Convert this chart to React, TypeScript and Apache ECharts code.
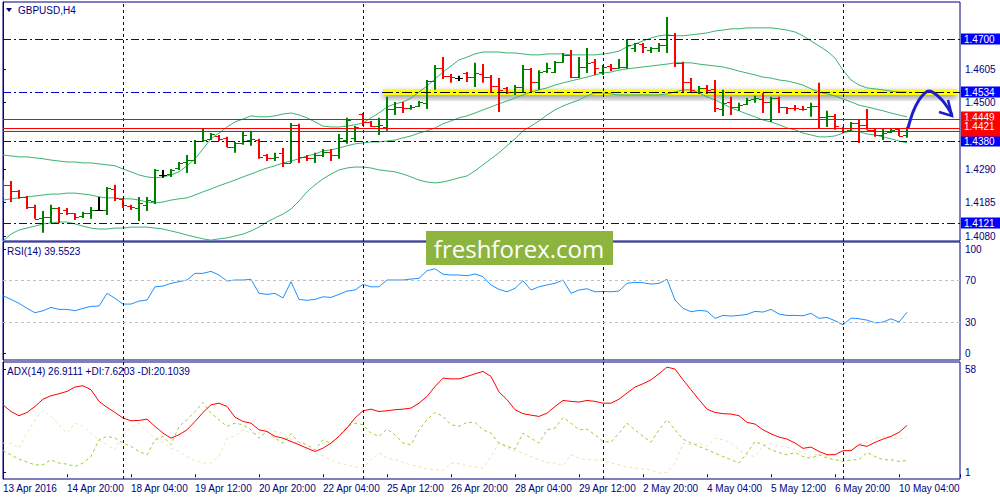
import React, { useEffect, useRef } from 'react';
import * as echarts from 'echarts';

// x tick labels, one every 8 bars (H4)
const tickLabels = [
  '13 Apr 2016', '14 Apr 20:00', '18 Apr 04:00', '19 Apr 12:00', '20 Apr 20:00',
  '22 Apr 04:00', '25 Apr 12:00', '26 Apr 20:00', '28 Apr 04:00', '29 Apr 12:00',
  '2 May 20:00', '4 May 04:00', '5 May 12:00', '6 May 20:00', '10 May 04:00',
];
// bar index of each Monday 00:00 (period separators)
const weekStarts = [15, 45, 75, 105];

const opens = [
  1.4206, 1.4241, 1.4222, 1.4203, 1.4171, 1.4137, 1.4140, 1.4168, 1.4162, 1.4152,
  1.4143, 1.4152, 1.4162, 1.4162, 1.4228, 1.4197, 1.4175, 1.4168, 1.4178, 1.4190,
  1.4272, 1.4275, 1.4294, 1.4313, 1.4319, 1.4379, 1.4386, 1.4395, 1.4389, 1.4360,
  1.4373, 1.4382, 1.4382, 1.4335, 1.4326, 1.4342, 1.4310, 1.4430, 1.4329, 1.4326,
  1.4335, 1.4345, 1.4335, 1.4382, 1.4389, 1.4464, 1.4439, 1.4426, 1.4423, 1.4480,
  1.4486, 1.4483, 1.4489, 1.4499, 1.4568, 1.4609, 1.4584, 1.4577, 1.4593, 1.4580,
  1.4590, 1.4580, 1.4552, 1.4546, 1.4533, 1.4549, 1.4606, 1.4565, 1.4599, 1.4596,
  1.4628, 1.4650, 1.4580, 1.4612, 1.4628, 1.4596, 1.4615, 1.4609, 1.4612, 1.4672,
  1.4684, 1.4665, 1.4672, 1.4681, 1.4713, 1.4625, 1.4565, 1.4533, 1.4546, 1.4543,
  1.4480, 1.4502, 1.4486, 1.4496, 1.4511, 1.4511, 1.4502, 1.4514, 1.4486, 1.4483,
  1.4480, 1.4486, 1.4489, 1.4455, 1.4458, 1.4420, 1.4414, 1.4436, 1.4430, 1.4414,
  1.4398, 1.4408, 1.4417, 1.4398,
];
const highs = [
  1.4256, 1.4253, 1.4225, 1.4206, 1.4178, 1.4159, 1.4178, 1.4171, 1.4168, 1.4152,
  1.4156, 1.4171, 1.4203, 1.4234, 1.4241, 1.4200, 1.4178, 1.4203, 1.4203, 1.4291,
  1.4288, 1.4291, 1.4313, 1.4335, 1.4382, 1.4417, 1.4404, 1.4398, 1.4392, 1.4376,
  1.4408, 1.4411, 1.4386, 1.4338, 1.4342, 1.4357, 1.4436, 1.4433, 1.4335, 1.4342,
  1.4354, 1.4354, 1.4401, 1.4452, 1.4426, 1.4467, 1.4442, 1.4452, 1.4518, 1.4502,
  1.4502, 1.4492, 1.4505, 1.4571, 1.4618, 1.4643, 1.4590, 1.4584, 1.4596, 1.4625,
  1.4621, 1.4587, 1.4577, 1.4549, 1.4555, 1.4618, 1.4609, 1.4602, 1.4625, 1.4631,
  1.4656, 1.4665, 1.4643, 1.4672, 1.4637, 1.4618, 1.4621, 1.4637, 1.4700, 1.4687,
  1.4687, 1.4675, 1.4687, 1.4769, 1.4719, 1.4628, 1.4577, 1.4552, 1.4555, 1.4571,
  1.4540, 1.4518, 1.4499, 1.4514, 1.4521, 1.4530, 1.4518, 1.4518, 1.4486, 1.4492,
  1.4489, 1.4499, 1.4562, 1.4474, 1.4464, 1.4423, 1.4439, 1.4445, 1.4480, 1.4420,
  1.4417, 1.4420, 1.4420, 1.4423,
];
const lows = [
  1.4200, 1.4187, 1.4197, 1.4165, 1.4134, 1.4090, 1.4121, 1.4121, 1.4146, 1.4130,
  1.4137, 1.4134, 1.4159, 1.4146, 1.4190, 1.4168, 1.4162, 1.4127, 1.4159, 1.4181,
  1.4263, 1.4266, 1.4288, 1.4278, 1.4307, 1.4376, 1.4382, 1.4379, 1.4360, 1.4342,
  1.4367, 1.4364, 1.4323, 1.4316, 1.4316, 1.4297, 1.4310, 1.4310, 1.4316, 1.4310,
  1.4329, 1.4316, 1.4323, 1.4370, 1.4376, 1.4426, 1.4423, 1.4398, 1.4411, 1.4461,
  1.4467, 1.4477, 1.4486, 1.4480, 1.4540, 1.4574, 1.4562, 1.4568, 1.4565, 1.4549,
  1.4562, 1.4530, 1.4470, 1.4527, 1.4524, 1.4533, 1.4533, 1.4540, 1.4593, 1.4593,
  1.4625, 1.4577, 1.4577, 1.4593, 1.4587, 1.4587, 1.4599, 1.4606, 1.4606, 1.4659,
  1.4656, 1.4656, 1.4659, 1.4656, 1.4612, 1.4530, 1.4530, 1.4527, 1.4527, 1.4470,
  1.4458, 1.4461, 1.4474, 1.4492, 1.4499, 1.4467, 1.4439, 1.4467, 1.4464, 1.4474,
  1.4474, 1.4455, 1.4420, 1.4423, 1.4414, 1.4404, 1.4411, 1.4373, 1.4414, 1.4392,
  1.4382, 1.4404, 1.4395, 1.4389,
];
const closes = [
  1.4241, 1.4222, 1.4203, 1.4171, 1.4134, 1.4140, 1.4168, 1.4152, 1.4152, 1.4140,
  1.4152, 1.4162, 1.4162, 1.4231, 1.4200, 1.4178, 1.4171, 1.4184, 1.4193, 1.4288,
  1.4272, 1.4288, 1.4310, 1.4319, 1.4379, 1.4382, 1.4401, 1.4386, 1.4360, 1.4373,
  1.4398, 1.4386, 1.4329, 1.4326, 1.4329, 1.4310, 1.4430, 1.4329, 1.4326, 1.4335,
  1.4345, 1.4335, 1.4389, 1.4445, 1.4423, 1.4439, 1.4426, 1.4428, 1.4480, 1.4486,
  1.4483, 1.4486, 1.4502, 1.4568, 1.4609, 1.4584, 1.4580, 1.4577, 1.4580, 1.4593,
  1.4580, 1.4552, 1.4540, 1.4533, 1.4549, 1.4606, 1.4565, 1.4596, 1.4609, 1.4628,
  1.4650, 1.4580, 1.4612, 1.4625, 1.4609, 1.4612, 1.4609, 1.4612, 1.4681, 1.4687,
  1.4675, 1.4672, 1.4681, 1.4713, 1.4625, 1.4565, 1.4540, 1.4546, 1.4540, 1.4483,
  1.4499, 1.4486, 1.4492, 1.4508, 1.4514, 1.4502, 1.4514, 1.4486, 1.4483, 1.4482,
  1.4479, 1.4489, 1.4455, 1.4458, 1.4426, 1.4411, 1.4436, 1.4430, 1.4414, 1.4398,
  1.4404, 1.4414, 1.4395, 1.4420,
];

// Bollinger Bands (20, 2)
const bbUpper = [
  1.4335, 1.4332, 1.4329, 1.4329, 1.4326, 1.4323, 1.4319, 1.4316, 1.4313, 1.4313,
  1.4310, 1.4310, 1.4307, 1.4304, 1.4301, 1.4291, 1.4282, 1.4272, 1.4266, 1.4263,
  1.4266, 1.4272, 1.4282, 1.4301, 1.4323, 1.4354, 1.4386, 1.4404, 1.4423, 1.4439,
  1.4448, 1.4458, 1.4455, 1.4455, 1.4458, 1.4464, 1.4467, 1.4461, 1.4452, 1.4439,
  1.4426, 1.4423, 1.4423, 1.4426, 1.4430, 1.4436, 1.4452, 1.4467, 1.4486, 1.4496,
  1.4502, 1.4514, 1.4533, 1.4552, 1.4574, 1.4596, 1.4615, 1.4634, 1.4643, 1.4653,
  1.4659, 1.4659, 1.4659, 1.4656, 1.4656, 1.4653, 1.4650, 1.4650, 1.4653, 1.4653,
  1.4653, 1.4650, 1.4650, 1.4650, 1.4650, 1.4653, 1.4656, 1.4662, 1.4675, 1.4684,
  1.4694, 1.4703, 1.4710, 1.4713, 1.4710, 1.4710, 1.4713, 1.4716, 1.4719, 1.4725,
  1.4728, 1.4732, 1.4732, 1.4735, 1.4735, 1.4735, 1.4735, 1.4732, 1.4728, 1.4722,
  1.4710, 1.4694, 1.4678, 1.4662, 1.4640, 1.4602, 1.4571, 1.4555, 1.4546, 1.4543,
  1.4540, 1.4536, 1.4533, 1.4533,
];
const bbMiddle = [
  1.4193, 1.4197, 1.4200, 1.4203, 1.4206, 1.4209, 1.4212, 1.4212, 1.4215, 1.4215,
  1.4212, 1.4209, 1.4203, 1.4200, 1.4200, 1.4197, 1.4197, 1.4193, 1.4187, 1.4184,
  1.4187, 1.4193, 1.4197, 1.4200, 1.4209, 1.4219, 1.4228, 1.4238, 1.4247, 1.4256,
  1.4266, 1.4275, 1.4285, 1.4294, 1.4301, 1.4310, 1.4316, 1.4323, 1.4332, 1.4338,
  1.4348, 1.4351, 1.4357, 1.4364, 1.4370, 1.4373, 1.4376, 1.4376, 1.4379, 1.4382,
  1.4389, 1.4395, 1.4404, 1.4411, 1.4420, 1.4433, 1.4442, 1.4452, 1.4458, 1.4467,
  1.4477, 1.4486, 1.4496, 1.4505, 1.4514, 1.4524, 1.4533, 1.4540, 1.4546, 1.4555,
  1.4562, 1.4568, 1.4574, 1.4580, 1.4587, 1.4593, 1.4596, 1.4602, 1.4606, 1.4609,
  1.4612, 1.4615, 1.4618, 1.4621, 1.4625, 1.4625, 1.4625, 1.4621, 1.4618, 1.4615,
  1.4612, 1.4606, 1.4599, 1.4593, 1.4587, 1.4580, 1.4577, 1.4571, 1.4568, 1.4562,
  1.4555, 1.4543, 1.4533, 1.4527, 1.4521, 1.4511, 1.4502, 1.4492, 1.4486, 1.4480,
  1.4474, 1.4467, 1.4461, 1.4455,
];
const bbLower = [
  1.4064, 1.4086, 1.4099, 1.4105, 1.4111, 1.4118, 1.4121, 1.4124, 1.4124, 1.4118,
  1.4111, 1.4105, 1.4102, 1.4102, 1.4105, 1.4105, 1.4108, 1.4108, 1.4108, 1.4105,
  1.4102, 1.4096, 1.4090, 1.4083, 1.4077, 1.4071, 1.4067, 1.4071, 1.4074, 1.4080,
  1.4086, 1.4096, 1.4108, 1.4124, 1.4137, 1.4149, 1.4165, 1.4190, 1.4219, 1.4241,
  1.4260, 1.4275, 1.4288, 1.4294, 1.4297, 1.4297, 1.4294, 1.4288, 1.4285, 1.4282,
  1.4275, 1.4266, 1.4256, 1.4250, 1.4247, 1.4250, 1.4256, 1.4263, 1.4269, 1.4285,
  1.4304, 1.4323, 1.4342, 1.4364, 1.4386, 1.4411, 1.4426, 1.4442, 1.4461, 1.4477,
  1.4489, 1.4499, 1.4508, 1.4521, 1.4530, 1.4530, 1.4527, 1.4524, 1.4524, 1.4524,
  1.4524, 1.4524, 1.4524, 1.4527, 1.4533, 1.4540, 1.4540, 1.4530, 1.4518, 1.4508,
  1.4496, 1.4483, 1.4474, 1.4464, 1.4455, 1.4445, 1.4439, 1.4430, 1.4420, 1.4414,
  1.4404, 1.4398, 1.4392, 1.4392, 1.4395, 1.4404, 1.4411, 1.4408, 1.4401, 1.4398,
  1.4392, 1.4386, 1.4379, 1.4373,
];

const rsi = [
  55.4, 51.9, 48.1, 43.3, 39.1, 41.0, 44.2, 42.3, 42.3, 41.0,
  43.3, 45.2, 45.5, 57.7, 52.9, 47.4, 47.4, 50.3, 51.3, 64.0,
  64.7, 67.3, 68.9, 70.5, 76.9, 76.9, 78.8, 75.3, 69.5, 70.5,
  70.5, 71.2, 57.7, 56.7, 57.7, 53.2, 68.9, 51.9, 51.0, 51.9,
  54.4, 53.8, 56.7, 59.9, 60.9, 66.3, 64.0, 64.0, 70.5, 70.5,
  70.5, 71.4, 72.1, 79.4, 81.3, 76.0, 75.3, 75.3, 74.6, 76.3,
  73.7, 65.7, 61.5, 59.2, 62.5, 69.8, 60.9, 64.0, 65.7, 67.3,
  70.5, 57.7, 60.9, 62.1, 59.2, 59.5, 59.2, 59.9, 67.3, 68.3,
  67.9, 66.6, 67.3, 71.2, 51.3, 43.3, 40.0, 41.3, 40.6, 33.7,
  36.5, 35.9, 36.5, 37.5, 40.4, 39.7, 42.3, 37.8, 36.5, 36.5,
  36.2, 38.5, 33.7, 34.6, 31.4, 27.5, 34.0, 33.3, 32.0, 29.4,
  30.1, 33.3, 30.1, 39.5523,
];

const adx = [
  38.3, 34.6, 32.3, 34.1, 37.4, 41.4, 43.3, 44.4, 45.7, 48.1,
  48.8, 46.6, 40.2, 36.9, 34.1, 31.0, 29.5, 29.7, 30.4, 26.4,
  22.7, 19.9, 21.8, 24.5, 29.1, 34.1, 38.3, 39.2, 37.4, 31.5,
  29.1, 28.2, 24.5, 23.6, 20.9, 19.9, 18.1, 16.3, 14.4, 12.6,
  14.4, 17.2, 20.9, 25.5, 31.0, 35.0, 35.9, 34.6, 35.0, 35.6,
  35.9, 36.5, 39.2, 42.9, 48.4, 53.0, 52.6, 52.6, 53.9, 55.4,
  56.7, 53.9, 45.4, 41.1, 35.6, 33.4, 32.6, 31.9, 33.7, 37.4,
  40.7, 40.2, 39.8, 40.7, 40.2, 39.2, 39.2, 41.4, 44.8, 48.1,
  49.9, 52.1, 55.4, 59.1, 58.0, 52.1, 46.6, 41.1, 35.9, 34.1,
  33.4, 33.2, 32.3, 28.6, 27.7, 24.5, 22.3, 20.5, 19.4, 17.2,
  14.3, 15.0, 12.6, 10.8, 10.8, 13.0, 13.0, 16.3, 15.4, 17.6,
  19.4, 20.9, 23.1, 26.9111,
];
const plusDi = [
  13.1, 10.7, 8.3, 6.7, 5.2, 5.2, 8.0, 6.2, 5.6, 4.3,
  6.2, 9.8, 19.0, 20.9, 19.9, 17.2, 15.4, 12.6, 10.7, 19.0,
  20.9, 16.3, 26.4, 30.1, 34.6, 39.6, 33.7, 30.1, 26.4, 28.2,
  27.3, 24.5, 19.9, 23.6, 19.9, 17.2, 22.3, 17.6, 16.3, 13.5,
  19.0, 17.2, 20.9, 26.4, 28.2, 27.3, 22.7, 20.9, 24.9, 21.8,
  17.2, 16.3, 24.5, 30.1, 34.1, 31.9, 27.3, 26.4, 28.6, 28.6,
  24.5, 22.7, 17.2, 15.4, 13.9, 22.7, 19.9, 17.2, 24.5, 25.5,
  31.3, 28.2, 24.5, 24.9, 21.8, 18.1, 17.7, 22.7, 28.2, 24.5,
  20.9, 17.7, 24.5, 30.1, 24.5, 19.4, 17.2, 15.4, 13.5, 11.7,
  9.8, 8.0, 6.2, 11.7, 18.1, 16.3, 13.5, 12.0, 10.7, 12.0,
  9.8, 8.9, 10.7, 8.9, 8.0, 7.1, 8.0, 8.0, 12.0, 9.8,
  8.0, 8.0, 7.1, 7.6203,
];
const minusDi = [
  17.2, 17.2, 14.4, 22.7, 30.1, 35.1, 31.9, 27.3, 22.7, 28.2,
  26.4, 22.7, 19.0, 16.3, 13.5, 21.8, 25.5, 28.2, 23.6, 19.9,
  17.2, 14.4, 12.6, 9.8, 7.5, 6.2, 6.2, 9.8, 19.9, 20.9,
  24.5, 22.7, 22.7, 25.5, 23.6, 22.7, 19.0, 16.3, 13.5, 11.7,
  10.2, 8.0, 6.2, 5.2, 4.0, 3.4, 8.0, 11.7, 8.9, 8.0,
  6.5, 5.2, 4.3, 2.9, 2.5, 2.1, 6.2, 5.8, 4.7, 4.0,
  3.4, 9.8, 17.2, 14.4, 13.1, 11.7, 9.8, 8.0, 6.5, 6.2,
  4.7, 10.7, 8.9, 8.0, 8.0, 7.6, 6.2, 5.2, 4.0, 3.4,
  2.9, 2.5, 0.7, 1.0, 6.2, 17.2, 16.3, 17.2, 15.4, 19.9,
  19.0, 17.2, 13.5, 10.7, 9.8, 15.7, 17.2, 15.4, 15.0, 13.5,
  12.0, 9.8, 11.3, 9.8, 11.7, 13.1, 13.9, 16.8, 17.6, 19.9,
  20.9, 20.5, 19.4, 20.1039,
];

const priceTicks = [1.408, 1.4185, 1.429, 1.45, 1.4605];
const rsiTicks = [0, 30, 70, 100];
const adxTicks = [1, 58];
// horizontal level objects on the price chart
const levelPrices = [1.47, 1.438, 1.4121, 1.4534, 1.4411, 1.4449, 1.4421];

const NAVY = '#000080';
const BLUE = '#0000c8';
const BOX_BLUE = '#0000ff';
const RED = '#ff0000';
const GREEN = '#008000';
const BAND = '#3cb371';
const FONT = "'Liberation Sans', Arial, sans-serif";
const X_MAX = 119.625;
const DASH_DOT = [8, 3, 2, 3];
const BAND_START = 47.5; // bar position where the yellow highlight begins

// drawing style of each level, same order as levelPrices
const levelStyles = [
  { stroke: BLUE, dash: DASH_DOT, box: BOX_BLUE, tag: true, dy: 0 },
  { stroke: BLUE, dash: DASH_DOT, box: BOX_BLUE, tag: true, dy: 0 },
  { stroke: BLUE, dash: DASH_DOT, box: BOX_BLUE, tag: true, dy: 0 },
  { stroke: BLUE, dash: DASH_DOT, box: BOX_BLUE, tag: true, dy: 0, split: true },
  { stroke: RED, dash: null, box: RED, tag: false, dy: 0 },
  { stroke: RED, dash: null, box: RED, tag: true, dy: -2 },
  { stroke: RED, dash: null, box: RED, tag: true, dy: -2 },
];

const pairs = (arr: number[]) => arr.map((v, k) => [k, v]);

const separators = () =>
  weekStarts.map((k) => ({
    xAxis: k,
    lineStyle: { color: NAVY, type: [3, 3], width: 1 },
    label: { show: false },
  }));

const App: React.FC = () => {
  const chartRef = useRef<HTMLDivElement>(null);

  useEffect(() => {
    if (!chartRef.current) return;
    const chart = echarts.init(chartRef.current, undefined, { renderer: 'svg' });

    const gridBox = [
      { top: 2, height: 239 },
      { top: 242, height: 118 },
      { top: 362, height: 117 },
    ];

    const ohlc = opens.map((o, k) => [k, o, highs[k], lows[k], closes[k]]);

    chart.setOption({
      animation: false,
      backgroundColor: '#fff',
      grid: gridBox.map((g) => ({
        left: 3,
        width: 957,
        top: g.top,
        height: g.height,
        show: true,
        borderColor: NAVY,
        borderWidth: 1,
        backgroundColor: '#fff',
      })),
      xAxis: [0, 1, 2].map((i) => ({
        type: 'value',
        gridIndex: i,
        min: 0,
        max: X_MAX,
        interval: 8,
        splitLine: { show: false },
        axisLine: { show: false },
        axisTick: { show: i === 2, length: 3, lineStyle: { color: NAVY } },
        axisLabel: {
          show: i === 2,
          formatter: (v: number) => (Number.isInteger(v / 8) ? tickLabels[v / 8] ?? '' : ''),
          align: 'left',
          margin: 4,
          color: NAVY,
          fontSize: 10,
          fontFamily: FONT,
        },
      })),
      yAxis: [
        { min: 1.40643, max: 1.48164, ticks: priceTicks, fmt: (v: number) => v.toFixed(4) },
        { min: -6.3, max: 107, ticks: rsiTicks, fmt: (v: number) => String(v) },
        { min: -2.6, max: 61.9, ticks: adxTicks, fmt: (v: number) => String(v) },
      ].map((a, i) => ({
        type: 'value',
        gridIndex: i,
        position: 'right',
        min: a.min,
        max: a.max,
        splitLine: { show: false },
        axisLine: { show: true, lineStyle: { color: NAVY } },
        axisTick: { show: true, length: 3, customValues: a.ticks, lineStyle: { color: NAVY } },
        axisLabel: {
          customValues: a.ticks,
          formatter: a.fmt,
          color: NAVY,
          fontSize: 10,
          fontFamily: FONT,
          margin: 5,
        },
      })),
      series: [
        {
          // carries the yellow highlight and the period separators
          type: 'line',
          xAxisIndex: 0,
          yAxisIndex: 0,
          data: pairs(closes),
          symbol: 'none',
          lineStyle: { width: 0, color: 'transparent' },
          silent: true,
          z: 1,
          markArea: {
            silent: true,
            itemStyle: {
              color: '#ffff00',
              shadowBlur: 6,
              shadowColor: 'rgba(0,0,0,0.45)',
              shadowOffsetY: 3,
            },
            data: [[{ coord: [BAND_START, 1.4543] }, { coord: [119.25, 1.4524] }]],
          },
          markLine: {
            silent: true,
            precision: 6,
            symbol: ['none', 'none'],
            label: { show: false },
            data: separators(),
          },
        },
        ...[bbUpper, bbMiddle, bbLower].map((band) => ({
          type: 'line',
          xAxisIndex: 0,
          yAxisIndex: 0,
          data: pairs(band),
          symbol: 'none',
          lineStyle: { color: BAND, width: 1 },
          silent: true,
          z: 2,
        })),
        {
          type: 'custom',
          xAxisIndex: 0,
          yAxisIndex: 0,
          data: ohlc,
          encode: { x: 0, y: [1, 2, 3, 4] },
          clip: true,
          z: 3,
          renderItem: (_params: any, api: any) => {
            const k = api.value(0);
            const o = api.value(1);
            const h = api.value(2);
            const l = api.value(3);
            const c = api.value(4);
            const x = Math.round(api.coord([k, h])[0]);
            const yh = api.coord([k, h])[1];
            const yl = api.coord([k, l])[1];
            const yo = Math.round(api.coord([k, o])[1]) + 0.5;
            const yc = Math.round(api.coord([k, c])[1]) + 0.5;
            const color = c > o ? GREEN : c < o ? RED : '#000';
            return {
              type: 'group',
              children: [
                { type: 'line', shape: { x1: x, y1: yh, x2: x, y2: yl }, style: { stroke: color, lineWidth: 2 } },
                { type: 'line', shape: { x1: x - 4, y1: yo, x2: x, y2: yo }, style: { stroke: color, lineWidth: 1 } },
                { type: 'line', shape: { x1: x, y1: yc, x2: x + 4, y2: yc }, style: { stroke: color, lineWidth: 1 } },
              ],
            };
          },
        },
        {
          // horizontal levels with their price tags
          type: 'custom',
          xAxisIndex: 0,
          yAxisIndex: 0,
          data: levelPrices.map((v, i) => [0, v, i]),
          encode: { x: 0, y: 1 },
          clip: false,
          silent: true,
          z: 6,
          renderItem: (params: any, api: any) => {
            const v = api.value(1);
            const s = levelStyles[api.value(2)];
            const cs = params.coordSys;
            const y = Math.round(api.coord([0, v])[1]) + 0.5;
            const x0 = cs.x;
            const x1 = cs.x + cs.width;
            const children: any[] = [];
            if (s.split) {
              const xm = api.coord([BAND_START, v])[0];
              children.push(
                { type: 'line', shape: { x1: x0, y1: y, x2: xm, y2: y }, style: { stroke: s.stroke, lineWidth: 1, lineDash: s.dash } },
                { type: 'line', shape: { x1: xm, y1: y, x2: x1, y2: y }, style: { stroke: '#000', lineWidth: 1, lineDash: [10, 3, 3, 3] } },
              );
            } else {
              children.push({
                type: 'line',
                shape: { x1: x0, y1: y, x2: x1, y2: y },
                style: { stroke: s.stroke, lineWidth: 1, lineDash: s.dash || undefined },
              });
            }
            const ty = y + s.dy;
            children.push({
              type: 'rect',
              shape: { x: x1 + 1, y: ty - 6, width: 39, height: 11 },
              style: { fill: s.box },
            });
            if (s.tag) {
              children.push({
                type: 'text',
                x: x1 + 4,
                y: ty,
                style: {
                  text: v.toFixed(4),
                  fill: '#fff',
                  fontSize: 10,
                  fontFamily: FONT,
                  verticalAlign: 'middle',
                },
              });
            }
            return { type: 'group', children };
          },
        },
        {
          type: 'line',
          xAxisIndex: 1,
          yAxisIndex: 1,
          data: pairs(rsi),
          symbol: 'none',
          lineStyle: { color: '#1e90ff', width: 1 },
          silent: true,
          markLine: {
            silent: true,
            precision: 6,
            symbol: ['none', 'none'],
            label: { show: false },
            data: [
              ...separators(),
              { yAxis: 30, lineStyle: { color: '#c0c0c0', type: [3, 3], width: 1 } },
              { yAxis: 70, lineStyle: { color: '#c0c0c0', type: [3, 3], width: 1 } },
            ],
          },
        },
        {
          type: 'line',
          xAxisIndex: 2,
          yAxisIndex: 2,
          data: pairs(minusDi),
          symbol: 'none',
          lineStyle: { color: '#f5deb3', width: 1, type: [3, 3] },
          silent: true,
          markLine: {
            silent: true,
            precision: 6,
            symbol: ['none', 'none'],
            label: { show: false },
            data: separators(),
          },
        },
        {
          type: 'line',
          xAxisIndex: 2,
          yAxisIndex: 2,
          data: pairs(plusDi),
          symbol: 'none',
          lineStyle: { color: '#9acd32', width: 1, type: [3, 3] },
          silent: true,
        },
        {
          type: 'line',
          xAxisIndex: 2,
          yAxisIndex: 2,
          data: pairs(adx),
          symbol: 'none',
          lineStyle: { color: RED, width: 1 },
          silent: true,
        },
      ],
      graphic: [
        { type: 'polygon', shape: { points: [[6, 8], [12, 8], [9, 12]] }, style: { fill: NAVY }, z: 100 },
        {
          type: 'text', x: 18, y: 10, z: 100,
          style: { text: 'GBPUSD,H4', fill: NAVY, fontSize: 10, fontFamily: FONT, verticalAlign: 'middle' },
        },
        {
          type: 'text', x: 7, y: 251, z: 100,
          style: { text: 'RSI(14) 39.5523', fill: NAVY, fontSize: 10, fontFamily: FONT, verticalAlign: 'middle' },
        },
        {
          type: 'text', x: 7, y: 371, z: 100,
          style: {
            text: 'ADX(14) 26.9111 +DI:7.6203 -DI:20.1039',
            fill: NAVY, fontSize: 10, fontFamily: FONT, verticalAlign: 'middle',
          },
        },
        { type: 'rect', shape: { x: 426, y: 231, width: 187, height: 34 }, style: { fill: '#8db43e' }, z: 100 },
        {
          type: 'text', x: 519, y: 248, z: 101,
          style: {
            text: 'freshforex.com', fill: '#fff', fontSize: 24, fontFamily: "'Open Sans', sans-serif",
            align: 'center', verticalAlign: 'middle',
          },
        },
        {
          type: 'polyline', z: 100,
          shape: {
            points: [[908, 128], [913, 112], [919, 100], [925, 93], [929, 91], [934, 93], [942, 100], [948, 108], [952, 115]],
            smooth: 0.3,
          },
          style: { stroke: '#1c1cd0', lineWidth: 3, fill: 'none' },
        },
        {
          type: 'polyline', z: 100,
          shape: { points: [[948, 100], [952, 116], [939, 112]] },
          style: { stroke: '#1c1cd0', lineWidth: 2.5, fill: 'none' },
        },
      ],
    });

    return () => chart.dispose();
  }, []);

  return (
    <div
      ref={chartRef}
      style={{ position: 'fixed', left: 0, top: 0, width: 1000, height: 500, background: '#fff' }}
    />
  );
};

export default App;
